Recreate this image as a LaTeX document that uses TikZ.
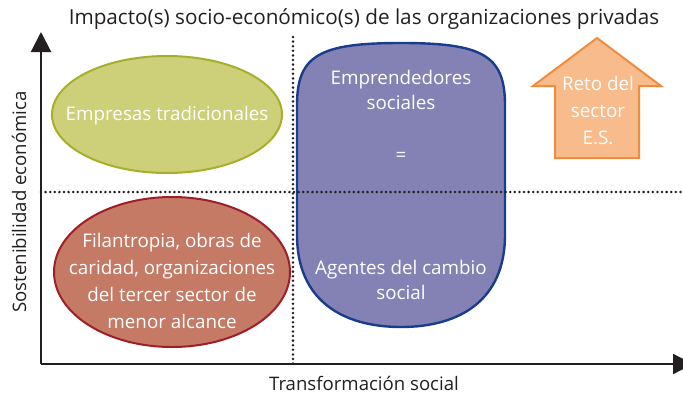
\documentclass[tikz,border=0pt]{standalone}
\usepackage{fontspec}
\setmainfont{Open Sans}
\usetikzlibrary{arrows.meta,shapes.geometric}
\definecolor{tradfill}{HTML}{CDD078}
\definecolor{tradline}{HTML}{A5B028}
\definecolor{filfill}{HTML}{C47A64}
\definecolor{filline}{HTML}{A01E28}
\definecolor{empfill}{HTML}{8482B4}
\definecolor{empline}{HTML}{193C8C}
\definecolor{retofill}{HTML}{F7BB8C}
\definecolor{retoline}{HTML}{F08C3C}
\definecolor{ink}{HTML}{231F20}
\begin{document}
\begin{tikzpicture}[x=1pt,y=-1pt,
    lbl/.style={text=ink,font=\fontsize{18.6}{20}\selectfont},
    inside/.style={text=white,align=center,font=\fontsize{18.8}{27}\selectfont},
    axis/.style={line width=2.2pt,ink,-{Triangle[width=20pt,length=20pt]}},
    guide/.style={line width=2.8pt,ink,line cap=round,dash pattern=on 0pt off 4.6pt}]
  \useasboundingbox (0,0) rectangle (683,394);
  % axes
  \coordinate (o) at (41,364);
  \coordinate (ytop) at (41,32);
  \coordinate (xend) at (693,364);
  \draw[axis] (o) -- (ytop);
  \draw[axis] (o) -- (xend);
  \node[lbl,font=\fontsize{20.7}{22}\selectfont] (title) at (364,19) {Impacto(s) socio-económico(s) de las organizaciones privadas};
  \node[lbl] (xlbl) at (364,383) {Transformación social};
  \node[lbl,rotate=90] (ylbl) at (19,202) {Sostenibilidad económica};
  % quadrants
  \node[ellipse,draw=tradline,fill=tradfill,line width=2pt,minimum width=230pt,minimum height=117pt] (trad) at (167,114.5) {};
  \node[inside] (tradtxt) at (167,116) {Empresas tradicionales};
  \node[ellipse,draw=filline,fill=filfill,line width=2pt,minimum width=236pt,minimum height=150pt] (fil) at (172,272) {};
  \node[inside] (filtxt) at (172,281) {Filantropia, obras de\\caridad, organizaciones\\del tercer sector de\\menor alcance};
  \draw[empline,fill=empfill,line width=2.4pt] (297,105) .. controls (297,55) and (320,43) .. (401,43)
    .. controls (482,43) and (505,55) .. (505,105) -- (505,235)
    .. controls (505,300) and (460,327) .. (401,327)
    .. controls (342,327) and (297,300) .. (297,235) -- cycle;
  \node[inside,font=\fontsize{18.8}{25}\selectfont] (emp) at (401,89.5) {Emprendedores\\sociales};
  \node[inside] (eq) at (401,157) {=};
  \node[inside,font=\fontsize{18.8}{25}\selectfont] (agt) at (401,279.5) {Agentes del cambio\\social};
  \draw[retoline,fill=retofill,line width=2pt] (597,38) -- (661,86) -- (639,86) -- (639,158)
    -- (555,158) -- (555,86) -- (533,86) -- cycle;
  \node[inside] (reto) at (598,110) {Reto del\\sector\\E.S.};
  % dotted lines
  \coordinate (vtop) at (293,37);
  \coordinate (vbot) at (293,364);
  \coordinate (hl) at (41,192);
  \coordinate (hr) at (683,192);
  \draw[guide] (vtop) -- (vbot);
  \draw[guide] (hl) -- (hr);
\end{tikzpicture}
\end{document}
